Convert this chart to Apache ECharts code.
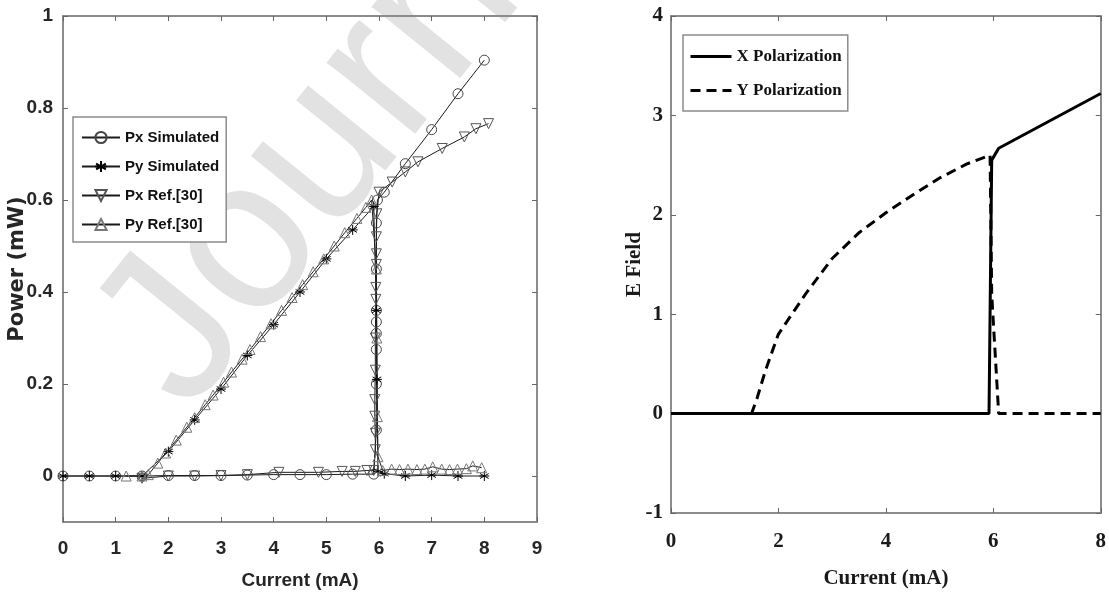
<!DOCTYPE html>
<html>
<head>
<meta charset="utf-8">
<title>Power / E Field vs Current</title>
<script src="https://cdn.jsdelivr.net/npm/echarts@6/dist/echarts.min.js"></script>
<style>
    html, body { margin: 0; padding: 0; background: #fff; }
    #main { width: 1109px; height: 599px; }
</style>
</head>
<body>
<div id="main"></div>
<script>
// ---- left panel data: [current mA, power mW]
var pxSim = [[0,0],[0.5,0],[1,0],[1.5,0],[2,0.001],[2.5,0.001],[3,0.001],[3.5,0.002],[4,0.003],[4.5,0.003],[5,0.003],[5.5,0.004],[5.9,0.004],
    [5.95,0.1],[5.95,0.2],[5.95,0.275],[5.95,0.31],[5.95,0.335],[5.95,0.36],[5.95,0.45],[5.95,0.55],[5.97,0.6],
    [6.1,0.617],[6.5,0.679],[7,0.753],[7.5,0.831],[8,0.904]];
var pySim = [[0,0],[0.5,0],[1,0],[1.5,0],[2,0.053],[2.5,0.122],[3,0.189],[3.5,0.262],[4,0.329],[4.5,0.4],[5,0.472],[5.5,0.535],[5.9,0.586],
    [5.95,0.36],[5.96,0.21],[5.98,0.01],[6.1,0.005],[6.5,0],[7,0.002],[7.5,0],[8,0]];
var pxRef = [[1.5,-0.005],[2,0],[2.5,0],[3,0.001],[3.5,0.003],[4.1,0.008],[4.85,0.008],[5.3,0.01],[5.55,0.01],[5.77,0.012],[5.9,0.012],
    [5.93,0.057],[5.93,0.093],[5.92,0.13],[5.92,0.166],[5.93,0.23],[5.93,0.3],[5.94,0.384],[5.94,0.41],[5.95,0.46],[5.95,0.483],[5.95,0.52],[5.96,0.57],
    [6,0.617],[6.25,0.639],[6.5,0.661],[6.74,0.683],[7.2,0.712],[7.62,0.737],[7.84,0.755],[8.08,0.766]];
var pyRef = [[1.2,0],[1.5,0],[1.62,0.003],[1.8,0.028],[1.95,0.05],[2.15,0.078],[2.35,0.106],[2.5,0.127],[2.7,0.155],[2.85,0.176],[3.05,0.204],
    [3.2,0.226],[3.4,0.254],[3.55,0.275],[3.75,0.303],[3.95,0.331],[4.15,0.36],[4.35,0.388],[4.55,0.416],[4.75,0.444],[4.95,0.472],
    [5.15,0.5],[5.35,0.529],[5.58,0.56],[5.75,0.584],[5.86,0.6],
    [5.95,0.45],[5.96,0.3],[5.97,0.129],[5.98,0.042],[6.07,0.012],[6.24,0.015],[6.39,0.014],[6.55,0.015],[6.72,0.014],[6.87,0.015],
    [7.02,0.02],[7.19,0.015],[7.34,0.014],[7.49,0.015],[7.66,0.016],[7.78,0.022],[7.95,0.018]];
var powerTicks = [0, 0.2, 0.4, 0.6, 0.8, 1];

// ---- right panel data: [current mA, E field]
var xPol = [[0,0],[5.92,0],[5.97,2.55],[6.1,2.67],[8,3.22]];
var yPol = [[0,0],[1.5,0],[1.6,0.15],[1.75,0.42],[1.9,0.65],[2,0.8],[2.2,0.96],[2.5,1.2],[3,1.56],[3.5,1.82],[4,2.02],[4.5,2.2],
    [5,2.37],[5.5,2.51],[5.94,2.6],[5.97,1.2],[6.1,0],[8,0]];

var chart = echarts.init(document.getElementById('main'), null, {renderer: 'canvas'});

var boxLine = {show: true, onZero: false, lineStyle: {color: '#8c8c8c', width: 2}};
var tickIn = {show: true, inside: true, length: 5, lineStyle: {color: '#666', width: 1}};
var sansLbl = {fontFamily: 'Liberation Sans, Arial', fontWeight: 'bold', fontSize: 19, color: '#262626'};
var serifLbl = {fontFamily: 'Liberation Serif, Times New Roman', fontWeight: 'bold', fontSize: 21, color: '#1a1a1a'};
var starPath = 'path://M5,0 L5,10 M0.67,2.5 L9.33,7.5 M0.67,7.5 L9.33,2.5 M0,5 L10,5';

function markerSeries(name, data, symbol, rot, edge) {
    return {
        name: name, type: 'line', xAxisIndex: 0, yAxisIndex: 0, data: data,
        symbol: symbol, symbolSize: 10, symbolRotate: rot,
        lineStyle: {color: '#1a1a1a', width: 1},
        itemStyle: {color: 'rgba(255,255,255,0)', borderColor: edge, borderWidth: 1},
        emphasis: {disabled: true}
    };
}

var option = {
    animation: false,
    graphic: [{
        type: 'text', x: 225, y: 445, rotation: 51 * Math.PI / 180, z: 0, silent: true,
        style: {text: 'Journal', fontSize: 215, fontFamily: 'Liberation Sans, Arial', fill: '#e2e2e2', align: 'left', verticalAlign: 'bottom'}
    }],
    grid: [
        {left: 63, top: 16, width: 474, height: 506},
        {left: 671, top: 16, width: 432, height: 497}
    ],
    legend: [{
        left: 73, top: 117, orient: 'vertical', padding: [13, 7, 10, 8], itemGap: 14, itemWidth: 38, itemHeight: 14,
        borderColor: '#8c8c8c', borderWidth: 1.5, backgroundColor: '#fff',
        textStyle: {fontFamily: 'Liberation Sans', fontWeight: 'bold', fontSize: 15, color: '#111'},
        data: ['Px Simulated', 'Py Simulated', 'Px Ref.[30]', 'Py Ref.[30]']
    }, {
        left: 683, top: 35, orient: 'vertical', padding: [13, 6, 12, 6], itemGap: 17, itemWidth: 41, itemHeight: 14,
        borderColor: '#8c8c8c', borderWidth: 1.5, backgroundColor: '#fff',
        itemStyle: {opacity: 0},
        lineStyle: {width: 3},
        textStyle: {fontFamily: 'Liberation Serif', fontWeight: 'bold', fontSize: 17, color: '#111'},
        data: ['X Polarization', 'Y Polarization']
    }],
    xAxis: [
        {gridIndex: 0, type: 'value', min: 0, max: 9, interval: 1, position: 'bottom',
            axisLine: boxLine, axisTick: tickIn, splitLine: {show: false},
            axisLabel: Object.assign({margin: 17}, sansLbl),
            name: 'Current (mA)', nameLocation: 'middle', nameGap: 49, nameTextStyle: sansLbl},
        {gridIndex: 0, type: 'value', min: 0, max: 9, interval: 1, position: 'top',
            axisLine: boxLine, axisTick: tickIn, splitLine: {show: false}, axisLabel: {show: false}},
        {gridIndex: 1, type: 'value', min: 0, max: 8, interval: 2, position: 'bottom',
            axisLine: boxLine, axisTick: tickIn, splitLine: {show: false},
            axisLabel: Object.assign({margin: 18}, serifLbl),
            name: 'Current (mA)', nameLocation: 'middle', nameGap: 55, nameTextStyle: serifLbl},
        {gridIndex: 1, type: 'value', min: 0, max: 8, interval: 2, position: 'top',
            axisLine: boxLine, axisTick: tickIn, splitLine: {show: false}, axisLabel: {show: false}}
    ],
    yAxis: [
        {gridIndex: 0, type: 'value', min: -0.1, max: 1, position: 'left',
            axisLine: boxLine, splitLine: {show: false},
            axisTick: Object.assign({customValues: powerTicks}, tickIn),
            axisLabel: Object.assign({margin: 10, customValues: powerTicks}, sansLbl),
            name: 'Power (mW)', nameLocation: 'middle', nameGap: 35, nameMoveOverlap: false,
            nameTextStyle: {fontFamily: 'DejaVu Sans', fontWeight: 'bold', fontSize: 21, color: '#262626'}},
        {gridIndex: 0, type: 'value', min: -0.1, max: 1, position: 'right',
            axisLine: boxLine, splitLine: {show: false},
            axisTick: Object.assign({customValues: powerTicks}, tickIn), axisLabel: {show: false}},
        {gridIndex: 1, type: 'value', min: -1, max: 4, interval: 1, position: 'left',
            axisLine: boxLine, axisTick: tickIn, splitLine: {show: false},
            axisLabel: Object.assign({margin: 8}, serifLbl),
            name: 'E Field', nameLocation: 'middle', nameGap: 26, nameMoveOverlap: false, nameTextStyle: serifLbl},
        {gridIndex: 1, type: 'value', min: -1, max: 4, interval: 1, position: 'right',
            axisLine: boxLine, axisTick: tickIn, splitLine: {show: false}, axisLabel: {show: false}}
    ],
    series: [
        markerSeries('Px Simulated', pxSim, 'circle', 0, '#444'),
        markerSeries('Py Simulated', pySim, starPath, 0, '#000'),
        markerSeries('Px Ref.[30]', pxRef, 'triangle', 180, '#555'),
        markerSeries('Py Ref.[30]', pyRef, 'triangle', 0, '#777'),
        {name: 'Y Polarization', type: 'line', xAxisIndex: 2, yAxisIndex: 2, data: yPol, symbol: 'none', z: 2,
            lineStyle: {color: '#000', width: 3, type: [10, 6]}, itemStyle: {color: '#000'}, emphasis: {disabled: true}},
        {name: 'X Polarization', type: 'line', xAxisIndex: 2, yAxisIndex: 2, data: xPol, symbol: 'none', z: 3,
            lineStyle: {color: '#000', width: 3}, itemStyle: {color: '#000'}, emphasis: {disabled: true}}
    ]
};
chart.setOption(option);
</script>
</body>
</html>
